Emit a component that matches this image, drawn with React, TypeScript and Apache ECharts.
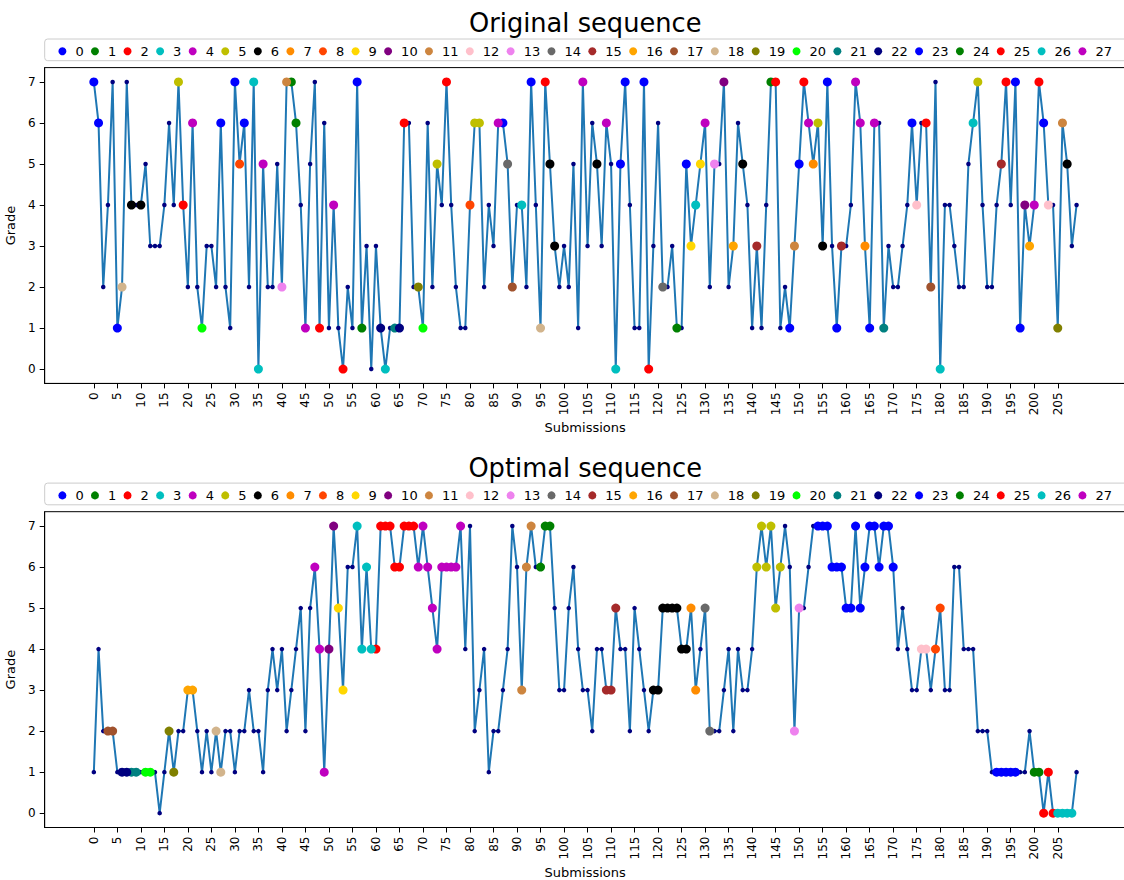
import { useEffect, useRef } from "react";
import * as echarts from "echarts";

// Group labels and their marker colours
const GROUP_NAMES = [
  "0", "1", "2", "3", "4", "5", "6", "7", "8", "9",
  "10", "11", "12", "13", "14", "15", "16", "17", "18", "19",
  "20", "21", "22", "23", "24", "25", "26", "27",
];
const GROUP_COLORS = [
  "#0000ff", "#008000", "#ff0000", "#00bfbf", "#bf00bf", "#bfbf00", "#000000", "#ff8c00", "#ff4500", "#ffd700",
  "#800080", "#cd853f", "#ffc0cb", "#ee82ee", "#696969", "#a52a2a", "#ffa500", "#a0522d", "#d2b48c", "#808000",
  "#00ff00", "#008080", "#000080", "#0000ff", "#008000", "#ff0000", "#00bfbf", "#bf00bf",
];

const SUBMISSION_TICKS = [
  0, 5, 10, 15, 20, 25, 30, 35, 40, 45, 50, 55, 60, 65, 70, 75, 80, 85, 90, 95, 100,
  105, 110, 115, 120, 125, 130, 135, 140, 145, 150, 155, 160, 165, 170, 175, 180, 185, 190, 195, 200, 205,
];
const GRADE_TICKS = [0, 1, 2, 3, 4, 5, 6, 7];

// Grade of each submission, in the original order
const originalGrades = [
  7, 6, 2, 4, 7, 1, 2, 7, 4, 4,
  4, 5, 3, 3, 3, 4, 6, 4, 7, 4,
  2, 6, 2, 1, 3, 3, 2, 6, 2, 1,
  7, 5, 6, 2, 7, 0, 5, 2, 2, 5,
  2, 7, 7, 6, 4, 1, 5, 7, 1, 6,
  1, 4, 1, 0, 2, 1, 7, 1, 3, 0,
  3, 1, 0, 1, 1, 1, 6, 6, 2, 2,
  1, 6, 2, 5, 4, 7, 4, 2, 1, 1,
  4, 6, 6, 2, 4, 3, 6, 6, 5, 2,
  4, 4, 2, 7, 4, 1, 7, 5, 3, 2,
  3, 2, 5, 1, 7, 3, 6, 5, 3, 6,
  5, 0, 5, 7, 4, 1, 1, 7, 0, 3,
  6, 2, 2, 3, 1, 1, 5, 3, 4, 5,
  6, 2, 5, 5, 7, 2, 3, 6, 5, 4,
  1, 3, 1, 4, 7, 7, 1, 2, 1, 3,
  5, 7, 6, 5, 6, 3, 7, 3, 1, 3,
  3, 4, 7, 6, 3, 1, 6, 6, 1, 3,
  2, 2, 3, 4, 6, 4, 6, 6, 2, 7,
  0, 4, 4, 3, 2, 2, 5, 6, 7, 4,
  2, 2, 4, 5, 7, 4, 7, 1, 4, 3,
  4, 7, 6, 4, 4, 1, 6, 5, 3, 4,
];

// Group of each submission in the original order (-1: no group)
const originalGroups = [
  0, 0, -1, -1, -1, 23, 18, -1, 6, -1,
  6, -1, -1, -1, -1, -1, -1, -1, 5, 2,
  -1, 27, -1, 20, -1, -1, -1, 0, -1, -1,
  0, 8, 0, -1, 3, 26, 27, -1, -1, -1,
  13, 11, 1, 1, -1, 4, -1, -1, 25, -1,
  -1, 4, -1, 25, -1, -1, 0, 24, -1, -1,
  -1, 22, 26, -1, 21, 22, 2, -1, -1, 19,
  20, -1, -1, 5, -1, 2, -1, -1, -1, -1,
  8, 5, 5, -1, -1, -1, 4, 0, 14, 17,
  -1, 3, -1, 0, -1, 18, 2, 6, 6, -1,
  -1, -1, -1, -1, 27, -1, -1, 6, -1, 27,
  -1, 26, 0, 0, -1, -1, -1, 0, 25, -1,
  -1, 14, -1, -1, 24, -1, 0, 9, 3, 9,
  27, -1, 13, -1, 10, -1, 16, -1, 6, -1,
  -1, 15, -1, -1, 1, 2, -1, -1, 23, 11,
  0, 2, 27, 7, 5, 6, 0, -1, 23, 15,
  -1, -1, 27, 27, 7, 23, 27, -1, 21, -1,
  -1, -1, -1, -1, 0, 12, -1, 2, 17, -1,
  26, -1, -1, -1, -1, -1, -1, 3, 5, -1,
  -1, -1, -1, 15, 2, -1, 0, 23, 10, 16,
  27, 2, 0, 12, -1, 19, 11, 6, -1, -1,
];

// Grade of each submission, in the optimal order
const optimalGrades = [
  1, 4, 2, 2, 2, 1, 1, 1, 1, 1,
  1, 1, 1, 1, 0, 1, 2, 1, 2, 2,
  3, 3, 2, 1, 2, 1, 2, 1, 2, 2,
  1, 2, 2, 3, 2, 2, 1, 3, 4, 3,
  4, 2, 3, 4, 5, 2, 5, 6, 4, 1,
  4, 7, 5, 3, 6, 6, 7, 4, 6, 4,
  4, 7, 7, 7, 6, 6, 7, 7, 7, 6,
  7, 6, 5, 4, 6, 6, 6, 6, 7, 4,
  7, 2, 3, 4, 1, 2, 2, 3, 4, 7,
  6, 3, 6, 7, 6, 6, 7, 7, 5, 3,
  3, 5, 6, 4, 3, 3, 2, 4, 4, 3,
  3, 5, 4, 4, 2, 5, 4, 3, 2, 3,
  3, 5, 5, 5, 5, 4, 4, 5, 3, 4,
  5, 2, 2, 2, 3, 4, 2, 4, 3, 3,
  4, 6, 7, 6, 7, 5, 6, 7, 6, 2,
  5, 5, 6, 7, 7, 7, 7, 6, 6, 6,
  5, 5, 7, 5, 6, 7, 7, 6, 7, 7,
  6, 4, 5, 4, 3, 3, 4, 4, 3, 4,
  5, 3, 3, 6, 6, 4, 4, 4, 2, 2,
  2, 1, 1, 1, 1, 1, 1, 1, 1, 2,
  1, 1, 0, 1, 0, 0, 0, 0, 0, 1,
];

// Group of each submission in the optimal order (-1: no group)
const optimalGroups = [
  -1, -1, -1, 17, 17, -1, 22, 22, 21, 21,
  -1, 20, 20, -1, -1, -1, 19, 19, -1, -1,
  16, 16, -1, -1, -1, -1, 18, 18, -1, -1,
  -1, -1, -1, -1, -1, -1, -1, -1, -1, -1,
  -1, -1, -1, -1, -1, -1, -1, 4, 4, 4,
  10, 10, 9, 9, -1, -1, 3, 3, 3, 3,
  2, 2, 2, 2, 2, 2, 2, 2, 2, 27,
  27, 27, 27, 27, 27, 27, 27, 27, 27, -1,
  -1, -1, -1, -1, -1, -1, -1, -1, -1, -1,
  -1, 11, 11, 11, -1, 1, 1, 1, -1, -1,
  -1, -1, -1, -1, -1, -1, -1, -1, -1, 15,
  15, 15, -1, -1, -1, -1, -1, -1, -1, 6,
  6, 6, 6, 6, 6, 6, 6, 7, 7, -1,
  14, 14, -1, -1, -1, -1, -1, -1, -1, -1,
  -1, 5, 5, 5, 5, 5, 5, -1, -1, 13,
  13, -1, -1, -1, 0, 0, 0, 0, 0, 0,
  0, 0, 0, 0, 0, 0, 0, 0, 0, 0,
  0, -1, -1, -1, -1, -1, 12, 12, -1, 8,
  8, -1, -1, -1, -1, -1, -1, -1, -1, -1,
  -1, -1, 23, 23, 23, 23, 23, -1, -1, -1,
  24, 24, 25, 25, 25, 26, 26, 26, 26, -1,
];

const FONT = "DejaVu Sans";
const LINE_COLOR = "#1f77b4";
const DOT_COLOR = "#000080";

// Vertical placement of the two panels
const PANELS = [
  { title: "Original sequence", grades: originalGrades, groups: originalGroups, offset: 0 },
  { title: "Optimal sequence", grades: optimalGrades, groups: optimalGroups, offset: 444.1 },
];

function buildOption() {
  const grids: any[] = [];
  const xAxes: any[] = [];
  const yAxes: any[] = [];
  const legends: any[] = [];
  const graphics: any[] = [];
  const series: any[] = [];

  PANELS.forEach((panel, p) => {
    const top = 67.6 + panel.offset;
    grids.push({
      left: 44.7,
      top,
      width: 1081,
      height: 315.8,
      show: true,
      borderColor: "#000",
      borderWidth: 1,
      backgroundColor: "transparent",
      containLabel: false,
      outerBoundsMode: "none",
    });
    xAxes.push({
      type: "value",
      gridIndex: p,
      min: -10.45,
      max: 219.45,
      axisLine: { show: true, onZero: false, lineStyle: { color: "#000", width: 1 } },
      axisTick: { show: true, customValues: SUBMISSION_TICKS, length: 5, lineStyle: { color: "#000", width: 1 } },
      axisLabel: {
        customValues: SUBMISSION_TICKS,
        rotate: 90,
        margin: 9,
        fontSize: 12,
        color: "#000",
        fontFamily: FONT,
      },
      splitLine: { show: false },
      name: "Submissions",
      nameLocation: "middle",
      nameGap: 38,
      nameTextStyle: { fontSize: 13, color: "#000", fontFamily: FONT },
    });
    yAxes.push({
      type: "value",
      gridIndex: p,
      min: -0.35,
      max: 7.35,
      axisLine: { show: true, onZero: false, lineStyle: { color: "#000", width: 1 } },
      axisTick: { show: true, customValues: GRADE_TICKS, length: 5, lineStyle: { color: "#000", width: 1 } },
      axisLabel: { customValues: GRADE_TICKS, margin: 9, fontSize: 12, color: "#000", fontFamily: FONT },
      splitLine: { show: false },
      name: "Grade",
      nameLocation: "middle",
      nameGap: 19,
      nameTextStyle: { fontSize: 13, color: "#000", fontFamily: FONT },
    });
    legends.push({
      data: GROUP_NAMES,
      left: 44.7,
      top: 40.3 + panel.offset,
      width: 1300,
      orient: "horizontal",
      icon: "circle",
      itemWidth: 16,
      itemHeight: 8,
      itemGap: 7.3,
      padding: [4.5, 0, 4.5, 13.7],
      borderWidth: 0,
      backgroundColor: "transparent",
      selectedMode: false,
      textStyle: { fontSize: 13, color: "#000", fontFamily: FONT },
    });
    // legend frame, running past the right edge of the figure
    graphics.push({
      type: "rect",
      z: -1,
      silent: true,
      shape: { x: 44.7, y: 39 + panel.offset, width: 1100, height: 21.7, r: 3 },
      style: { fill: "#ffffff", stroke: "#cccccc", lineWidth: 1 },
    });
    graphics.push({
      type: "text",
      x: 585.2,
      y: 23.4 + panel.offset,
      style: {
        text: panel.title,
        fontSize: 25.7,
        fontFamily: FONT,
        fill: "#000",
        align: "center",
        verticalAlign: "middle",
      },
    });

    const points = panel.grades.map((g, i) => [i, g]);
    series.push({
      type: "line",
      xAxisIndex: p,
      yAxisIndex: p,
      data: points,
      showSymbol: false,
      symbol: "none",
      lineStyle: { color: LINE_COLOR, width: 2 },
      itemStyle: { color: LINE_COLOR },
      silent: true,
      z: 2,
    });
    series.push({
      type: "scatter",
      xAxisIndex: p,
      yAxisIndex: p,
      data: points,
      symbolSize: 4.5,
      itemStyle: { color: DOT_COLOR, opacity: 1 },
      silent: true,
      z: 3,
    });
    GROUP_NAMES.forEach((name, k) => {
      series.push({
        type: "scatter",
        name,
        xAxisIndex: p,
        yAxisIndex: p,
        data: points.filter((_, i) => panel.groups[i] === k),
        symbol: "circle",
        symbolSize: 9,
        itemStyle: { color: GROUP_COLORS[k], opacity: 1 },
        z: 4,
      });
    });
  });

  return {
    animation: false,
    backgroundColor: "#ffffff",
    grid: grids,
    xAxis: xAxes,
    yAxis: yAxes,
    legend: legends,
    graphic: graphics,
    series,
  };
}

export default function App() {
  const ref = useRef<HTMLDivElement>(null);

  useEffect(() => {
    document.body.style.margin = "0";
    if (!ref.current) return;
    const chart = echarts.init(ref.current, undefined, { renderer: "svg" });
    chart.setOption(buildOption());
    return () => chart.dispose();
  }, []);

  return (
    <div
      style={{
        position: "absolute",
        left: 0,
        top: 0,
        width: 1124,
        height: 880,
        overflow: "hidden",
        background: "#fff",
      }}
    >
      <div ref={ref} style={{ width: 1180, height: 880 }} />
    </div>
  );
}
